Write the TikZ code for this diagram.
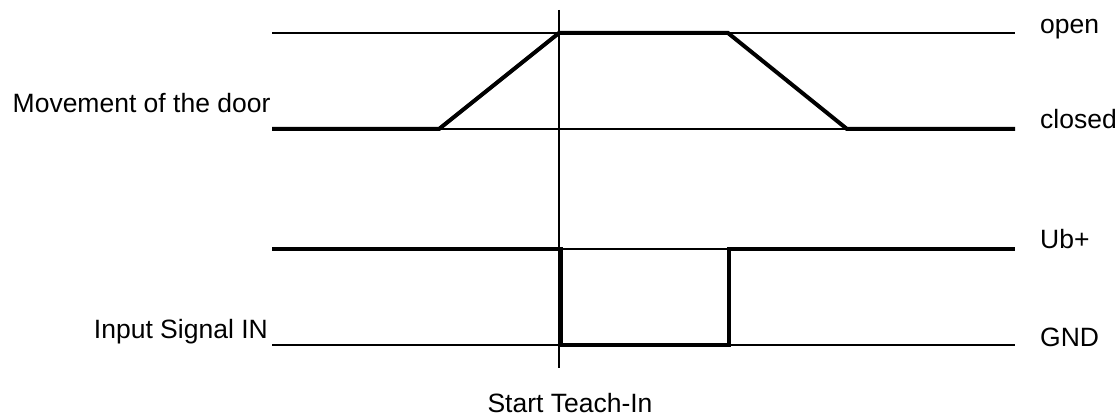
\documentclass[tikz,border=0pt]{standalone}
\usepackage{fontspec}
\setmainfont{Liberation Sans}
\begin{document}
\begin{tikzpicture}[x=1pt,y=-1pt,
  thinline/.style={line width=1.3pt,black},
  thickline/.style={line width=4pt,black,line join=miter,line cap=butt},
  lbl/.style={inner sep=0pt,font=\fontsize{26.5}{30}\selectfont}]
\useasboundingbox (0,0) rectangle (1120,417);
% reference coordinates
\coordinate (oL) at (272,33);  \coordinate (oR) at (1015,33);
\coordinate (cL) at (272,129); \coordinate (cR) at (1015,129);
\coordinate (uL) at (272,249); \coordinate (uR) at (1015,249);
\coordinate (gL) at (272,345); \coordinate (gR) at (1015,345);
\coordinate (vT) at (559,10);  \coordinate (vB) at (559,368);
% thin reference lines
\draw[thinline] (oL) -- (oR);
\draw[thinline] (cL) -- (cR);
\draw[thinline] (uL) -- (uR);
\draw[thinline] (gL) -- (gR);
\draw[thinline] (vT) -- (vB);
% door movement
\coordinate (d1) at (439,129);
\coordinate (d2) at (559,33);
\coordinate (d3) at (728,33);
\coordinate (d4) at (847,129);
\draw[thickline] (cL) -- (d1) -- (d2) -- (d3) -- (d4) -- (cR);
% input signal
\coordinate (s1) at (561,249);
\coordinate (s2) at (561,345);
\coordinate (s3) at (729,345);
\coordinate (s4) at (729,249);
\draw[thickline] (uL) -- (s1) -- (s2) -- (s3) -- (s4) -- (uR);
% labels
\node[lbl,anchor=base west] (open) at (1040,34) {open};
\node[lbl,anchor=base west] (closed) at (1040,129) {closed};
\node[lbl,anchor=base west] (ub) at (1040,248) {Ub+};
\node[lbl,anchor=base west] (gnd) at (1040,346) {GND};
\node[lbl,anchor=base west] (move) at (12.5,113) {Movement of the door};
\node[lbl,anchor=base east] (input) at (268,338) {Input Signal IN};
\node[lbl,anchor=base] (start) at (570,412.5) {Start Teach-In};
\end{tikzpicture}
\end{document}
